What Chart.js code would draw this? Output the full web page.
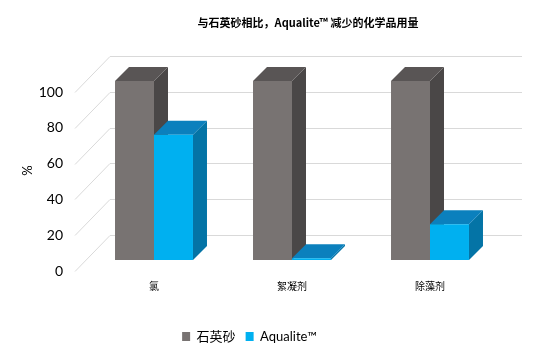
<!DOCTYPE html>
<html>
<head>
<meta charset="utf-8">
<script src="https://cdn.jsdelivr.net/npm/chart.js@4"></script>
<style>
  html, body { margin: 0; padding: 0; background: #fff; }
  #wrap { width: 554px; height: 363px; }
</style>
</head>
<body>
<div id="wrap"><canvas id="chemChart"></canvas></div>
<script>
var categories = ['氯', '絮凝剂', '除藻剂'];
var quartzSand = [100, 100, 100];
var aqualite = [70, 1, 20];
var yTicks = [0, 20, 40, 60, 80, 100];
var seriesNames = ['石英砂', 'Aqualite™'];
var titleText = '与石英砂相比，Aqualite™ 减少的化学品用量';

var DEPTH = 14;
var faceColors = [
  { top: '#595555', side: '#4a4747' },
  { top: '#0b80bd', side: '#0474a6' }
];

// draws the 3D wall grid, the top/side faces of every bar and the title
var bars3d = {
  id: 'bars3d',
  beforeDatasetsDraw: function (chart) {
    var ctx = chart.ctx;
    var area = chart.chartArea;
    var y = chart.scales.y;
    ctx.save();
    ctx.strokeStyle = '#d9d9d9';
    ctx.lineWidth = 1;
    yTicks.forEach(function (v) {
      var py = Math.round(y.getPixelForValue(v)) + 0.5;
      ctx.beginPath();
      ctx.moveTo(area.left - 10, py + 11);
      ctx.lineTo(area.left + 25, py - 25);
      ctx.lineTo(area.right + 23, py - 25);
      ctx.stroke();
    });
    chart.data.datasets.forEach(function (ds, di) {
      var meta = chart.getDatasetMeta(di);
      meta.data.forEach(function (bar) {
        var l = bar.x - bar.width / 2, r = bar.x + bar.width / 2;
        ctx.fillStyle = faceColors[di].side;
        ctx.beginPath();
        ctx.moveTo(r, bar.y);
        ctx.lineTo(r + DEPTH, bar.y - DEPTH);
        ctx.lineTo(r + DEPTH, bar.base - DEPTH);
        ctx.lineTo(r, bar.base);
        ctx.closePath();
        ctx.fill();
        ctx.fillStyle = faceColors[di].top;
        ctx.beginPath();
        ctx.moveTo(l, bar.y);
        ctx.lineTo(r, bar.y);
        ctx.lineTo(r + DEPTH, bar.y - DEPTH);
        ctx.lineTo(l + DEPTH, bar.y - DEPTH);
        ctx.closePath();
        ctx.fill();
      });
    });
    ctx.restore();
  },
  afterDraw: function (chart) {
    var ctx = chart.ctx;
    ctx.save();
    ctx.fillStyle = '#000';
    ctx.font = 'bold 11px "Noto Sans CJK SC", sans-serif';
    ctx.textAlign = 'center';
    ctx.textBaseline = 'middle';
    ctx.fillText(titleText, 308, 23);
    ctx.restore();
  }
};

new Chart(document.getElementById('chemChart'), {
  type: 'bar',
  data: {
    labels: categories,
    datasets: [{
      label: seriesNames[0],
      data: quartzSand,
      backgroundColor: '#787372'
    }, {
      label: seriesNames[1],
      data: aqualite,
      backgroundColor: '#00b0f0'
    }]
  },
  options: {
    responsive: true,
    maintainAspectRatio: false,
    animation: false,
    layout: { padding: { top: 81, right: 55, left: 0, bottom: 10 } },
    datasets: {
      bar: { barPercentage: 1, categoryPercentage: 0.565 }
    },
    scales: {
      x: {
        afterFit: function (s) { s.height += 8; },
        grid: { display: false, drawTicks: false },
        border: { display: false },
        ticks: {
          color: '#000',
          padding: 20,
          font: { family: '"Noto Sans CJK SC", sans-serif', size: 10 }
        }
      },
      y: {
        min: 0,
        max: 100,
        afterFit: function (s) { s.width = 85; },
        grid: { display: false, drawTicks: false },
        border: { display: false },
        ticks: {
          stepSize: 20,
          padding: 22,
          labelOffset: 11,
          color: '#000',
          font: { family: 'Lato, sans-serif', size: 14 }
        },
        title: {
          display: true,
          text: '%',
          color: '#000',
          padding: { top: 20, bottom: 0 },
          font: { family: 'Lato, sans-serif', size: 13 }
        }
      }
    },
    plugins: {
      legend: {
        position: 'bottom',
        labels: {
          boxWidth: 8,
          boxHeight: 9,
          padding: 10,
          color: '#000',
          font: { family: 'Lato, "Noto Sans CJK SC", sans-serif', size: 13 }
        }
      },
      title: { display: false },
      tooltip: { enabled: false }
    }
  },
  plugins: [bars3d]
});
</script>
</body>
</html>
